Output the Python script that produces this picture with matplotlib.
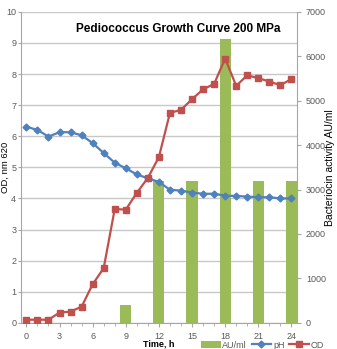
import matplotlib
matplotlib.use("Agg")
import matplotlib.pyplot as plt
from matplotlib.ticker import MultipleLocator

plt.rcParams["font.family"] = ["Liberation Sans", "DejaVu Sans"]

hours = list(range(25))
od = [0.1, 0.1, 0.1, 0.33, 0.36, 0.52, 1.24, 1.76, 3.66, 3.64, 4.18, 4.66,
      5.33, 6.75, 6.85, 7.19, 7.51, 7.68, 8.5, 7.62, 7.96, 7.87, 7.76, 7.64, 7.84]
ph = [6.31, 6.2, 5.99, 6.13, 6.13, 6.03, 5.78, 5.46, 5.15, 4.97, 4.77, 4.65,
      4.53, 4.28, 4.25, 4.19, 4.15, 4.15, 4.09, 4.08, 4.06, 4.04, 4.04, 4.0, 4.0]
bar_hours = [9, 12, 15, 18, 21, 24]
au = [400, 3200, 3200, 6400, 3200, 3200]

green = "#9BBB59"
blue = "#4F81BD"
red = "#C0504D"
grey = "#595959"

fig = plt.figure(figsize=(3.37, 3.49), dpi=100)
pos = [0.062, 0.075, 0.819, 0.891]

ax = fig.add_axes(pos)
ax.set_xlim(-0.5, 24.5)
ax.set_ylim(0, 10)
ax.yaxis.set_major_locator(MultipleLocator(1))
ax.xaxis.set_major_locator(MultipleLocator(3))
ax.xaxis.set_minor_locator(MultipleLocator(1))
ax.grid(axis="y", color="#C8C8C8", linewidth=1.0)
ax.set_ylabel("OD, nm 620", fontsize=6.8)
ax.yaxis.set_label_coords(-0.041, 0.5)
ax.set_xlabel("Time, h", fontsize=6.5, fontweight="bold", labelpad=2)
ax.xaxis.set_label_coords(0.5, -0.055)

ax2 = ax.twinx()
ax2.bar(bar_hours, au, width=1.0, color=green, label="AU/ml")
ax2.set_ylim(0, 7000)
ax2.yaxis.set_major_locator(MultipleLocator(1000))
ax2.set_ylabel("Bacteriocin activity AU/ml", fontsize=7.5)
ax2.yaxis.set_label_coords(1.102, 0.5)

ax3 = fig.add_axes(pos, sharex=ax, sharey=ax)
ax3.patch.set_visible(False)
ax3.axis("off")
ax3.plot(hours, ph, color=blue, marker="D", markersize=3.5, linewidth=1.6, label="pH")
ax3.plot(hours, od, color=red, marker="s", markersize=4.8, linewidth=1.6, label="OD")

for a in (ax, ax2):
    for s in a.spines.values():
        s.set_color("#A6A6A6")
    a.spines["top"].set_visible(False)
    a.tick_params(colors="#A6A6A6", labelcolor=grey, labelsize=6.5, length=3, width=0.8)
    a.tick_params(which="minor", colors="#A6A6A6", length=2)
ax.tick_params(axis="y", pad=0.8, length=2.5)

ax.spines["right"].set_visible(False)
ax2.spines["left"].set_visible(False)
ax2.spines["bottom"].set_visible(False)

ax.text(0.57, 0.965, "Pediococcus Growth Curve 200 MPa", transform=ax.transAxes,
        ha="center", va="top", fontsize=8.5, fontweight="bold")

handles = ax2.get_legend_handles_labels()[0] + ax3.get_legend_handles_labels()[0]
labels = ["AU/ml", "pH", "OD"]
fig.legend(handles, labels, loc="lower left", bbox_to_anchor=(0.585, -0.012), ncol=3,
           frameon=False, fontsize=6.5, handlelength=2.2, handletextpad=0.2,
           columnspacing=0.5, borderaxespad=0, labelcolor=grey)

fig.savefig("out.png", dpi=100)
